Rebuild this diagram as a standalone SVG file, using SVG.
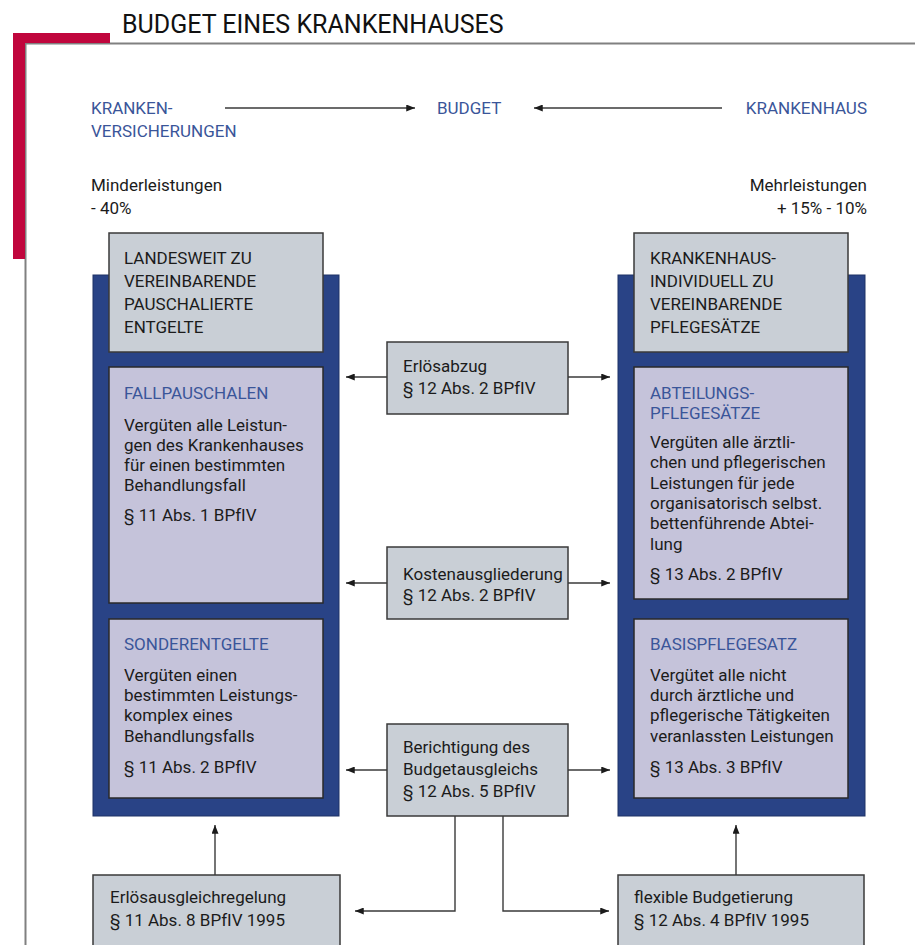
<svg xmlns="http://www.w3.org/2000/svg" width="915" height="945" viewBox="0 0 915 945">
  <defs>
    <style>
      text { font-family: Roboto, "Open Sans", "Liberation Sans", sans-serif; font-size: 17px; fill: #1b1b1b; }
      .title { font-size: 25px; fill: #111; }
      .blue { fill: #3a5599; }
      .r { text-anchor: end; }
      .frame { fill: #294386; stroke: #1f3366; stroke-width: 1; }
      .head { fill: #c9cfd6; stroke: #3a3a3a; stroke-width: 1.5; }
      .inner { fill: #c5c3da; stroke: #2a2a2a; stroke-width: 1.5; }
      .mid { fill: #c9cfd6; stroke: #3a3a3a; stroke-width: 1.5; }
      .conn { fill: none; stroke: #3a3a3a; stroke-width: 1.4; }
    </style>
    <marker id="ah" viewBox="0 0 10 8" refX="10" refY="4" markerWidth="9" markerHeight="7" markerUnits="userSpaceOnUse" orient="auto">
      <path d="M0,0 L10,4 L0,8 Z" fill="#1b1b1b"/>
    </marker>
  </defs>

  <rect width="915" height="945" fill="#ffffff"/>

  <!-- page frame -->
  <g id="frame">
    <path d="M25.5,945 V43.5 H915" fill="none" stroke="#808080" stroke-width="2"/>
    <rect x="13" y="33" width="97" height="10" fill="#c0063d"/>
    <rect x="13" y="33" width="12" height="226" fill="#c0063d"/>
    <text class="title" x="122" y="33">BUDGET EINES KRANKENHAUSES</text>
  </g>

  <!-- top row -->
  <g id="kassen">
    <text class="blue" x="91" y="114">KRANKEN-</text>
    <text class="blue" x="91" y="137">VERSICHERUNGEN</text>
  </g>
  <g id="budget">
    <text class="blue" x="437" y="114">BUDGET</text>
  </g>
  <g id="krankenhaus">
    <text class="blue r" x="867" y="114">KRANKENHAUS</text>
  </g>
  <g id="minder">
    <text x="91" y="191">Minderleistungen</text>
    <text x="91" y="214">- 40%</text>
  </g>
  <g id="mehr">
    <text class="r" x="867" y="191">Mehrleistungen</text>
    <text class="r" x="867" y="214">+ 15% - 10%</text>
  </g>

  <!-- left column: lump-sum fees -->
  <g id="pauschal">
    <rect class="frame" x="93" y="275" width="246" height="541"/>
    <rect class="head" x="109" y="233" width="214" height="119"/>
    <text x="124" y="264">LANDESWEIT ZU</text>
    <text x="124" y="287">VEREINBARENDE</text>
    <text x="124" y="310">PAUSCHALIERTE</text>
    <text x="124" y="333">ENTGELTE</text>
  </g>
  <g id="fallpauschalen">
    <rect class="inner" x="109" y="367" width="214" height="236"/>
    <text class="blue" x="124" y="399">FALLPAUSCHALEN</text>
    <text x="124" y="431">Vergüten alle Leistun-</text>
    <text x="124" y="451">gen des Krankenhauses</text>
    <text x="124" y="471">für einen bestimmten</text>
    <text x="124" y="491">Behandlungsfall</text>
    <text x="124" y="521">§ 11 Abs. 1 BPfIV</text>
  </g>
  <g id="sonderentgelte">
    <rect class="inner" x="109" y="619" width="214" height="179"/>
    <text class="blue" x="124" y="650">SONDERENTGELTE</text>
    <text x="124" y="681">Vergüten einen</text>
    <text x="124" y="701">bestimmten Leistungs-</text>
    <text x="124" y="721">komplex eines</text>
    <text x="124" y="742">Behandlungsfalls</text>
    <text x="124" y="773">§ 11 Abs. 2 BPfIV</text>
  </g>

  <!-- right column: hospital-specific rates -->
  <g id="individuell">
    <rect class="frame" x="618" y="275" width="247" height="541"/>
    <rect class="head" x="634" y="233" width="214" height="119"/>
    <text x="650" y="264">KRANKENHAUS-</text>
    <text x="650" y="287">INDIVIDUELL ZU</text>
    <text x="650" y="310">VEREINBARENDE</text>
    <text x="650" y="333">PFLEGESÄTZE</text>
  </g>
  <g id="abteilung">
    <rect class="inner" x="634" y="367" width="214" height="232"/>
    <text class="blue" x="650" y="399">ABTEILUNGS-</text>
    <text class="blue" x="650" y="419">PFLEGESÄTZE</text>
    <text x="650" y="448">Vergüten alle ärztli-</text>
    <text x="650" y="468">chen und pflegerischen</text>
    <text x="650" y="489">Leistungen für jede</text>
    <text x="650" y="509">organisatorisch selbst.</text>
    <text x="650" y="529">bettenführende Abtei-</text>
    <text x="650" y="550">lung</text>
    <text x="650" y="580">§ 13 Abs. 2 BPfIV</text>
  </g>
  <g id="basis">
    <rect class="inner" x="634" y="619" width="214" height="179"/>
    <text class="blue" x="650" y="650">BASISPFLEGESATZ</text>
    <text x="650" y="681">Vergütet alle nicht</text>
    <text x="650" y="701">durch ärztliche und</text>
    <text x="650" y="721">pflegerische Tätigkeiten</text>
    <text x="650" y="742">veranlassten Leistungen</text>
    <text x="650" y="773">§ 13 Abs. 3 BPfIV</text>
  </g>

  <!-- middle column -->
  <g id="erloesabzug">
    <rect class="mid" x="387" y="342" width="181" height="72"/>
    <text x="403" y="372">Erlösabzug</text>
    <text x="403" y="394">§ 12 Abs. 2 BPfIV</text>
  </g>
  <g id="kosten">
    <rect class="mid" x="387" y="547" width="181" height="72"/>
    <text x="403" y="580">Kostenausgliederung</text>
    <text x="403" y="601">§ 12 Abs. 2 BPfIV</text>
  </g>
  <g id="berichtigung">
    <rect class="mid" x="387" y="724" width="181" height="92"/>
    <text x="403" y="753">Berichtigung des</text>
    <text x="403" y="775">Budgetausgleichs</text>
    <text x="403" y="797">§ 12 Abs. 5 BPfIV</text>
  </g>

  <!-- bottom row -->
  <g id="erloesausgleich">
    <rect class="mid" x="93" y="875" width="247" height="80"/>
    <text x="110" y="903">Erlösausgleichregelung</text>
    <text x="110" y="926">§ 11 Abs. 8 BPfIV 1995</text>
  </g>
  <g id="flexibel">
    <rect class="mid" x="618" y="875" width="246" height="80"/>
    <text x="634" y="903">flexible Budgetierung</text>
    <text x="634" y="926">§ 12 Abs. 4 BPfIV 1995</text>
  </g>

  <!-- connectors -->
  <g id="connectors">
    <line class="conn" x1="225" y1="108" x2="415" y2="108" marker-end="url(#ah)"/>
    <line class="conn" x1="722" y1="108" x2="534" y2="108" marker-end="url(#ah)"/>

    <line class="conn" x1="387" y1="377" x2="346" y2="377" marker-end="url(#ah)"/>
    <line class="conn" x1="568" y1="377" x2="610" y2="377" marker-end="url(#ah)"/>
    <line class="conn" x1="387" y1="583" x2="346" y2="583" marker-end="url(#ah)"/>
    <line class="conn" x1="568" y1="583" x2="610" y2="583" marker-end="url(#ah)"/>
    <line class="conn" x1="387" y1="770" x2="346" y2="770" marker-end="url(#ah)"/>
    <line class="conn" x1="568" y1="770" x2="610" y2="770" marker-end="url(#ah)"/>

    <path class="conn" d="M455,816 V911 H355" marker-end="url(#ah)"/>
    <path class="conn" d="M503,816 V911 H609" marker-end="url(#ah)"/>

    <line class="conn" x1="215" y1="875" x2="215" y2="825" marker-end="url(#ah)"/>
    <line class="conn" x1="736" y1="875" x2="736" y2="825" marker-end="url(#ah)"/>
  </g>
</svg>
